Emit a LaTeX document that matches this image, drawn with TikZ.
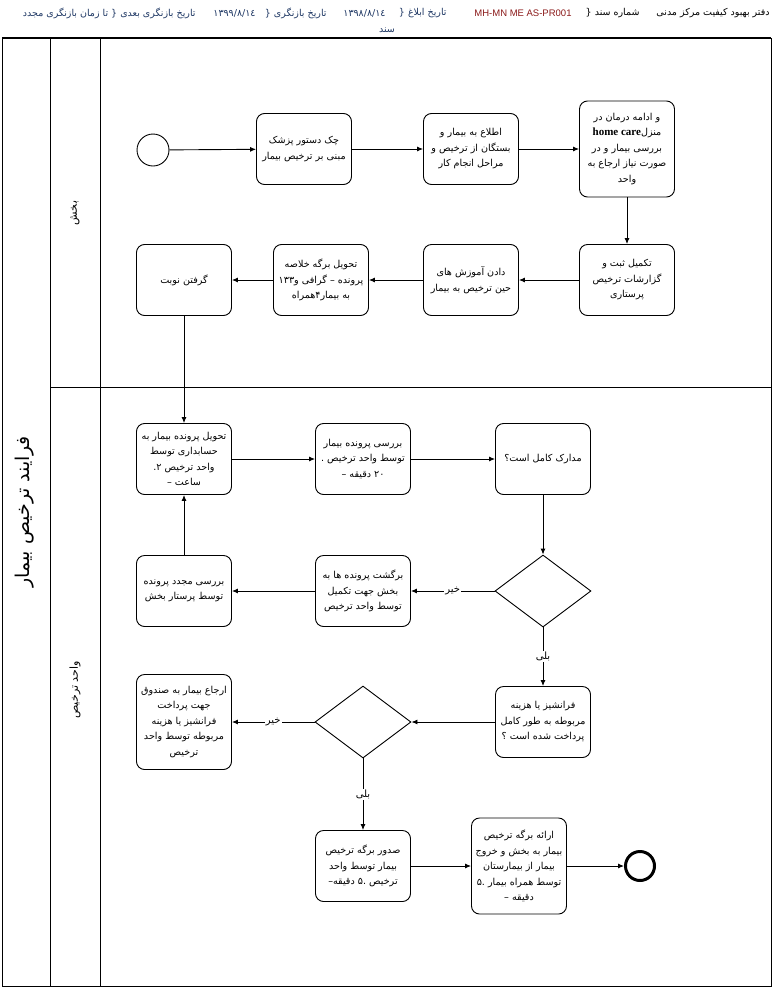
\documentclass[tikz,border=0pt]{standalone}
\usepackage{fontspec}
\usepackage{tikz}
\usetikzlibrary{shapes.geometric,arrows.meta}
\TeXXeTstate=1
\newfontfamily\arabicfont[Script=Arabic]{DejaVu Sans}
\newfontfamily\latinfont{Liberation Sans}
\newfontfamily\serifbold{Liberation Serif}
\newcommand{\fa}[1]{\beginR #1\endR}
\definecolor{headblue}{HTML}{1F3864}
\definecolor{codered}{HTML}{8B1A1A}

\begin{document}
\begin{tikzpicture}[x=1pt,y=-1pt,>={Latex[length=6pt,width=5pt]},line width=0.9pt]
 \tikzstyle{task} = [draw,rounded corners=8pt,minimum width=95pt,minimum height=71pt,
   align=center,inner sep=1pt,font=\arabicfont\fontsize{9.6}{15.5}\selectfont]
 \tikzstyle{gate} = [draw,diamond,aspect=1.33,minimum width=96pt,minimum height=72pt,inner sep=0pt]
 \tikzstyle{answer} = [fill=white,inner sep=1pt,font=\arabicfont\fontsize{10}{12}\selectfont]
 \tikzstyle{head} = [anchor=east,inner sep=0pt,font=\arabicfont\fontsize{9.5}{11}\selectfont]
 \useasboundingbox (0,0) rectangle (772,988);

% Header
 \node[head] (h1) at (770,13) {\fa{دفتر بهبود کیفیت مرکز مدنی}};
 \node[head] (h2) at (640,13) {\fa{شماره سند \{}};
 \node[head,text=codered,font=\latinfont\fontsize{9.5}{11}\selectfont] (h3) at (572,13) {MH-MN ME AS-PR001};
 \node[head,text=headblue] (h4) at (447,13) {\fa{تاریخ ابلاغ \{}};
 \node[head,text=headblue] (h5) at (386,13) {\fa{١٣٩٨/٨/١٤}};
 \node[head,text=headblue] (h6) at (327,13) {\fa{تاریخ بازنگری \{}};
 \node[head,text=headblue] (h7) at (256,13) {\fa{١٣٩٩/٨/١٤}};
 \node[head,text=headblue] (h8) at (196,13) {\fa{تاریخ بازنگری بعدی \{ تا زمان بازنگری مجدد}};
 \node[head,text=headblue,anchor=center] (h9) at (387,30) {\fa{سند}};

% Pool and lanes
 \draw[line width=2pt] (2,38) -- (771,38);
 \draw (2,38) rectangle (771,986);
 \draw (50,38) -- (50,986);
 \draw (100,38) -- (100,986);
 \draw (50,387) -- (771,387);
 \node[rotate=90,font=\arabicfont\fontsize{19}{22}\selectfont] (pool) at (25,512) {\fa{فرایند ترخیص بیمار}};
 \node[rotate=90,font=\arabicfont\fontsize{11}{13}\selectfont] (lane1) at (75,213) {\fa{بخش}};
 \node[rotate=90,font=\arabicfont\fontsize{11}{13}\selectfont] (lane2) at (75,690) {\fa{واحد ترخیص}};

% Ward lane
 \node[draw,circle,minimum size=32pt,inner sep=0pt] (start) at (153,150) {};
 \node[task] (chk) at (304,149) {\fa{چک دستور پزشک}\\\fa{مبنی بر ترخیص بیمار}};
 \node[task] (inform) at (471,149) {\fa{اطلاع به بیمار و}\\\fa{بستگان از ترخیص و}\\\fa{مراحل انجام کار}};
 \node[task,minimum height=96pt] (homecare) at (627,149) {\fa{و ادامه درمان در}\\
   \fa{منزل\beginL{\serifbold\bfseries\fontsize{11}{15}\selectfont home care}\endL}\\
   \fa{بررسی بیمار و در}\\\fa{صورت نیاز ارجاع به}\\\fa{واحد}};
 \node[task] (record) at (627,280) {\fa{تکمیل ثبت و}\\\fa{گزارشات ترخیص}\\\fa{پرستاری}};
 \node[task] (teach) at (471,280) {\fa{دادن آموزش های}\\\fa{حین ترخیص به بیمار}};
 \node[task] (summary) at (321,280) {\fa{تحویل برگه خلاصه}\\\fa{پرونده – گرافی و۱۳۳}\\\fa{به بیمار۴همراه}};
 \node[task] (appoint) at (184,280) {\fa{گرفتن نوبت}};

% Discharge unit lane
 \node[task] (deliver) at (184,459) {\fa{تحویل پرونده بیمار به}\\\fa{حسابداری توسط}\\\fa{واحد ترخیص ۲.}\\\fa{ساعت –}};
 \node[task] (review) at (363,459) {\fa{بررسی پرونده بیمار}\\\fa{توسط واحد ترخیص .}\\\fa{۲۰ دقیقه –}};
 \node[task] (complete) at (543,459) {\fa{مدارک کامل است؟}};
 \node[gate] (docq) at (543,591) {};
 \node[task] (retward) at (363,591) {\fa{برگشت پرونده ها به}\\\fa{بخش جهت تکمیل}\\\fa{توسط واحد ترخیص}};
 \node[task] (rereview) at (184,591) {\fa{بررسی مجدد پرونده}\\\fa{توسط پرستار بخش}};
 \node[task] (paid) at (543,722) {\fa{فرانشیز یا هزینه}\\\fa{مربوطه به طور کامل}\\\fa{پرداخت شده است ؟}};
 \node[gate] (payq) at (363,722) {};
 \node[task,minimum height=95pt] (cashier) at (184,722) {\fa{ارجاع بیمار به صندوق}\\\fa{جهت پرداخت}\\\fa{فرانشیز یا هزینه}\\\fa{مربوطه توسط واحد}\\\fa{ترخیص}};
 \node[task] (issue) at (363,866) {\fa{صدور برگه ترخیص}\\\fa{بیمار توسط واحد}\\\fa{ترخیص .۵ دقیقه–}};
 \node[task,minimum height=96pt] (handover) at (519,866) {\fa{ارائه برگه ترخیص}\\\fa{بیمار به بخش و خروج}\\\fa{بیمار از بیمارستان}\\\fa{توسط همراه بیمار .۵}\\\fa{دقیقه –}};
 \node[draw,circle,line width=3pt,minimum size=29pt,inner sep=0pt] (stop) at (640,866) {};

% Flow
 \draw[->] (start) -- (chk);
 \draw[->] (chk) -- (inform);
 \draw[->] (inform) -- (homecare);
 \draw[->] (homecare) -- (record);
 \draw[->] (record) -- (teach);
 \draw[->] (teach) -- (summary);
 \draw[->] (summary) -- (appoint);
 \draw[->] (appoint) -- (deliver);
 \draw[->] (deliver) -- (review);
 \draw[->] (review) -- (complete);
 \draw[->] (complete) -- (docq);
 \draw[->] (docq) -- node[answer] {\fa{خیر}} (retward);
 \draw[->] (retward) -- (rereview);
 \draw[->] (rereview) -- (deliver);
 \draw[->] (docq) -- node[answer] {\fa{بلی}} (paid);
 \draw[->] (paid) -- (payq);
 \draw[->] (payq) -- node[answer] {\fa{خیر}} (cashier);
 \draw[->] (payq) -- node[answer] {\fa{بلی}} (issue);
 \draw[->] (issue) -- (handover);
 \draw[->] (handover) -- (stop);
\end{tikzpicture}
\end{document}
